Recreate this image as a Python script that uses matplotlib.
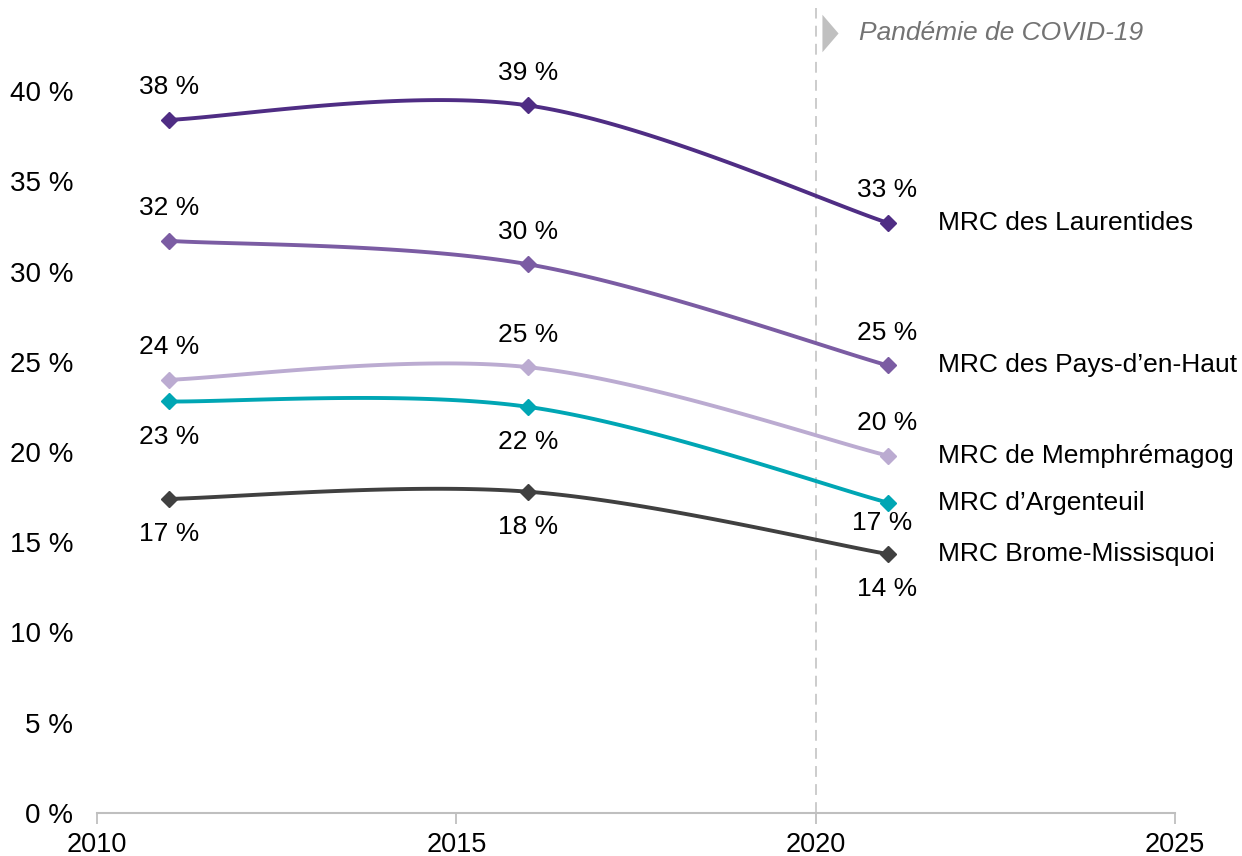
import numpy as np
import matplotlib.pyplot as plt
from matplotlib.ticker import FuncFormatter

plt.rcParams['font.family'] = ['Liberation Sans', 'DejaVu Sans']

# DONNEES
annees = [2011, 2016, 2021]
mrc_noms = ["MRC des Laurentides", "MRC des Pays-d\u2019en-Haut", "MRC de Memphrémagog",
            "MRC d\u2019Argenteuil", "MRC Brome-Missisquoi"]
laurentides = [38.4, 39.2, 32.7]
pays_den_haut = [31.7, 30.4, 24.8]
memphremagog = [24.0, 24.7, 19.8]
argenteuil = [22.8, 22.5, 17.2]
brome = [17.4, 17.8, 14.35]
etiquettes = [["38 %", "39 %", "33 %"], ["32 %", "30 %", "25 %"], ["24 %", "25 %", "20 %"],
              ["23 %", "22 %", "17 %"], ["17 %", "18 %", "14 %"]]
y_ticks = [0, 5, 10, 15, 20, 25, 30, 35, 40]
x_ticks = [2010, 2015, 2020, 2025]
annee_covid = 2020

series = [laurentides, pays_den_haut, memphremagog, argenteuil, brome]
couleurs = ['#4F2D84', '#7B5CA3', '#BBABD1', '#00A6B4', '#404040']
# position des etiquettes: +1 au-dessus, -1 en dessous
positions = [[1, 1, 1], [1, 1, 1], [1, 1, 1], [-1, -1, -1], [-1, -1, -1]]


def lissage(x, y, n=60):
    # courbe lissee style Excel (Bezier / Catmull-Rom)
    x = np.asarray(x, float); y = np.asarray(y, float)
    px = np.concatenate([[x[0]], x, [x[-1]]])
    py = np.concatenate([[y[0]], y, [y[-1]]])
    xs, ys = [], []
    t = np.linspace(0, 1, n)
    for i in range(1, len(px) - 2):
        p0 = np.array([px[i], py[i]]); p3 = np.array([px[i + 1], py[i + 1]])
        c1 = p0 + (np.array([px[i + 1], py[i + 1]]) - np.array([px[i - 1], py[i - 1]])) / 6
        c2 = p3 - (np.array([px[i + 2], py[i + 2]]) - np.array([px[i], py[i]])) / 6
        b = ((1 - t) ** 3)[:, None] * p0 + (3 * (1 - t) ** 2 * t)[:, None] * c1 \
            + (3 * (1 - t) * t ** 2)[:, None] * c2 + (t ** 3)[:, None] * p3
        xs.extend(b[:, 0]); ys.extend(b[:, 1])
    return xs, ys


fig = plt.figure(figsize=(12.42, 8.56), dpi=100)
ax = fig.add_axes([97 / 1242, 1 - 813 / 856, (1175 - 97) / 1242, (813 - 91) / 856])

for vals, nom, col, lab, pos in zip(series, mrc_noms, couleurs, etiquettes, positions):
    sx, sy = lissage(annees, vals)
    ax.plot(sx, sy, color=col, lw=2.8, solid_capstyle='round', zorder=3)
    ax.plot(annees, vals, ls='none', marker='D', ms=8.5, color=col, zorder=4)
    for i, (xa, ya) in enumerate(zip(annees, vals)):
        dx = 0
        dy = 23.5 if pos[i] > 0 else -25.5
        if nom == mrc_noms[3] and i == 2:
            dx, dy = -4, -15
        ax.annotate(lab[i], (xa, ya), xytext=(dx, dy), textcoords='offset points',
                    ha='center', va='center', fontsize=19, color='black')
    ax.annotate(nom, (annees[-1], vals[-1]), xytext=(36, 0), textcoords='offset points',
                ha='left', va='center', fontsize=19, color='black')

# ligne COVID
ax.plot([annee_covid, annee_covid], [0, 44.6], ls=(0, (6, 4)), color='#C8C8C8', lw=1.3,
        clip_on=False, zorder=1)
fleche = [(-0.43, -1), (-0.43, 1), (0.43, 0), (-0.43, -1)]
ax.plot([annee_covid + 0.2], [43.2], marker=fleche, ms=27, color='#C0C0C0', clip_on=False,
        markeredgewidth=0)
ax.text(annee_covid + 0.6, 43.2, "Pandémie de COVID-19", fontsize=19, style='italic',
        color='#737373', ha='left', va='center')

ax.set_xlim(2010, 2025)
ax.set_ylim(0, 40)
ax.set_xticks(x_ticks)
ax.set_yticks(y_ticks)
ax.yaxis.set_major_formatter(FuncFormatter(lambda v, p: f"{int(v)} %"))
for s in ['top', 'right', 'left']:
    ax.spines[s].set_visible(False)
ax.spines['bottom'].set_color('#BFBFBF')
ax.spines['bottom'].set_linewidth(1.5)
ax.tick_params(axis='x', direction='out', length=8, width=1.3, color='#BFBFBF',
               labelsize=19.5, pad=5.5)
ax.tick_params(axis='y', length=0, labelsize=20, pad=17)

fig.savefig('out.png', dpi=100)
